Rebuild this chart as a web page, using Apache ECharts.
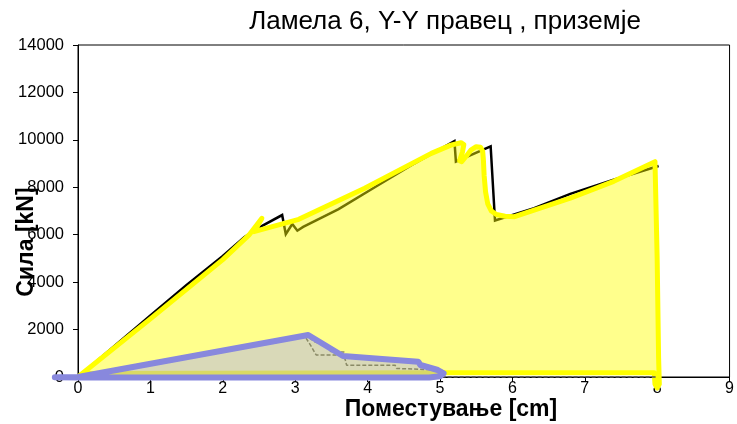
<!DOCTYPE html>
<html>
<head>
<meta charset="utf-8">
<script src="https://cdn.jsdelivr.net/npm/echarts@6/dist/echarts.min.js"></script>
<style>
  html, body { margin: 0; padding: 0; background: #fff; }
  #chart { width: 737px; height: 424px; }
</style>
</head>
<body>
<div id="chart"></div>
<script>
// Axis ranges and ticks
const xTicks = [0, 1, 2, 3, 4, 5, 6, 7, 8, 9];
const yTicks = [0, 2000, 4000, 6000, 8000, 10000, 12000, 14000];

// Capacity (pushover) curve: displacement [cm] and force [kN]
const capacityX = [0, 0.5, 1.0, 1.5, 2.0, 2.3, 2.55, 2.82, 2.87, 2.96, 3.03, 3.11, 3.6, 4.1, 4.6, 5.2, 5.22, 5.70, 5.76, 6.3, 6.8, 7.4, 8.02];
const capacityY = [0, 1300, 2600, 3880, 5100, 5900, 6380, 6830, 6020, 6450, 6170, 6330, 7080, 8000, 8920, 9950, 9080, 9730, 6600, 7120, 7720, 8320, 8900];

// Highlighted (yellow) region outline
const yellowX = [0.02, 1.0, 2.0, 2.36, 2.54, 2.43, 3.05, 3.96, 4.88, 5.15, 5.29, 5.33, 5.31, 5.27, 5.30, 5.36, 5.43, 5.50, 5.56, 5.59, 5.60, 5.61, 5.63, 5.66, 5.71, 5.78, 5.90, 6.03, 6.8, 7.4, 7.97, 8.00, 8.02, 8.03, 8.00, 7.97, 7.96, 5.0, 0.1];
const yellowY = [50, 2450, 4950, 5980, 6690, 6130, 6650, 7960, 9430, 9780, 9880, 9800, 9480, 9120, 9080, 9300, 9580, 9710, 9690, 9520, 9150, 8500, 7800, 7300, 7000, 6850, 6780, 6760, 7540, 8250, 9080, 5000, 800, -300, -470, -300, 180, 180, 150];

// Second (blue) region outline
const blueX = [0, 3.18, 3.66, 4.70, 4.73, 4.97, 5.05, 5.0, 4.85, 0, -0.32, 0];
const blueY = [0, 1770, 885, 645, 506, 295, 150, 30, -20, -20, -10, 0];

// Dashed cyclic-response traces
const dashAX = [3.15, 3.22, 3.29, 3.62, 3.69, 3.71, 4.38, 4.40, 4.98];
const dashAY = [1640, 1300, 930, 930, 750, 500, 500, 360, 300];
const dashBX = [3.20, 3.27, 3.42, 3.49, 3.68];
const dashBY = [1640, 1480, 1350, 1080, 1050];
const dashCX = [5.0, 5.05, 8.0];
const dashCY = [300, 0, 0];

const pairs = (xs, ys) => xs.map((x, i) => [x, ys[i]]);

const FONT = '"Liberation Sans", Arial, sans-serif';

const chart = echarts.init(document.getElementById('chart'), null, { renderer: 'canvas' });

function polygonSeries(xs, ys, z, style) {
  return {
    type: 'custom',
    coordinateSystem: 'cartesian2d',
    data: [[xs[0], ys[0]]],
    clip: false,
    silent: true,
    z: z,
    renderItem: function (params, api) {
      return {
        type: 'polygon',
        shape: { points: xs.map((x, i) => api.coord([x, ys[i]])) },
        style: style
      };
    }
  };
}

function dashedSeries(xs, ys, color) {
  return {
    type: 'line',
    data: pairs(xs, ys),
    showSymbol: false,
    clip: false,
    silent: true,
    z: 5,
    lineStyle: { color: color || '#8a8a66', width: 1.5, type: [4, 2] }
  };
}

chart.setOption({
  animation: false,
  grid: {
    left: 78, top: 45, right: 5, bottom: 47,
    show: true, borderColor: '#000', borderWidth: 1, backgroundColor: 'transparent'
  },
  xAxis: {
    type: 'value', min: xTicks[0], max: xTicks[xTicks.length - 1], interval: 1,
    axisLine: { show: true, onZero: false, lineStyle: { color: '#000', width: 1 } },
    axisTick: { show: true, inside: false, length: 5, lineStyle: { color: '#000' } },
    axisLabel: { margin: 4, color: '#000', fontSize: 16, fontFamily: FONT, formatter: v => String(v) },
    splitLine: { show: false }
  },
  yAxis: {
    type: 'value', min: yTicks[0], max: yTicks[yTicks.length - 1], interval: 2000,
    axisLine: { show: true, lineStyle: { color: '#000', width: 1 } },
    axisTick: { show: true, inside: false, length: 5, lineStyle: { color: '#000' } },
    axisLabel: { margin: 14, color: '#000', fontSize: 16.5, fontFamily: FONT, formatter: v => String(v) },
    splitLine: { show: false }
  },
  graphic: [
    {
      type: 'text', x: 445, y: 22, z: 100,
      style: { text: 'Ламела 6, Y-Y правец , приземје', fill: '#000', font: '26px ' + FONT, textAlign: 'center', textVerticalAlign: 'middle' }
    },
    {
      type: 'text', x: 451, y: 410, z: 100,
      style: { text: 'Поместување [cm]', fill: '#000', font: 'bold 23px ' + FONT, textAlign: 'center', textVerticalAlign: 'middle' }
    },
    {
      type: 'text', x: 27, y: 242, rotation: Math.PI / 2, z: 100,
      style: { text: 'Сила [kN]', fill: '#000', font: 'bold 23px ' + FONT, textAlign: 'center', textVerticalAlign: 'middle' }
    }
  ],
  series: [
    {
      type: 'line',
      data: pairs(capacityX, capacityY),
      showSymbol: false,
      silent: true,
      z: 2,
      lineStyle: { color: '#000', width: 2.5, join: 'miter' }
    },
    polygonSeries(yellowX, yellowY, 3, {
      fill: 'rgba(255,255,0,0.45)', stroke: '#ffff00', lineWidth: 5, lineJoin: 'round'
    }),
    polygonSeries(blueX, blueY, 4, {
      fill: 'rgba(160,160,250,0.4)', stroke: null
    }),
    dashedSeries(dashAX, dashAY),
    dashedSeries(dashBX, dashBY),
    dashedSeries(dashCX, dashCY, '#555'),
    polygonSeries(blueX, blueY, 6, {
      fill: 'none', stroke: '#8888dd', lineWidth: 6, lineJoin: 'round', lineCap: 'round'
    })
  ]
});
</script>
</body>
</html>
